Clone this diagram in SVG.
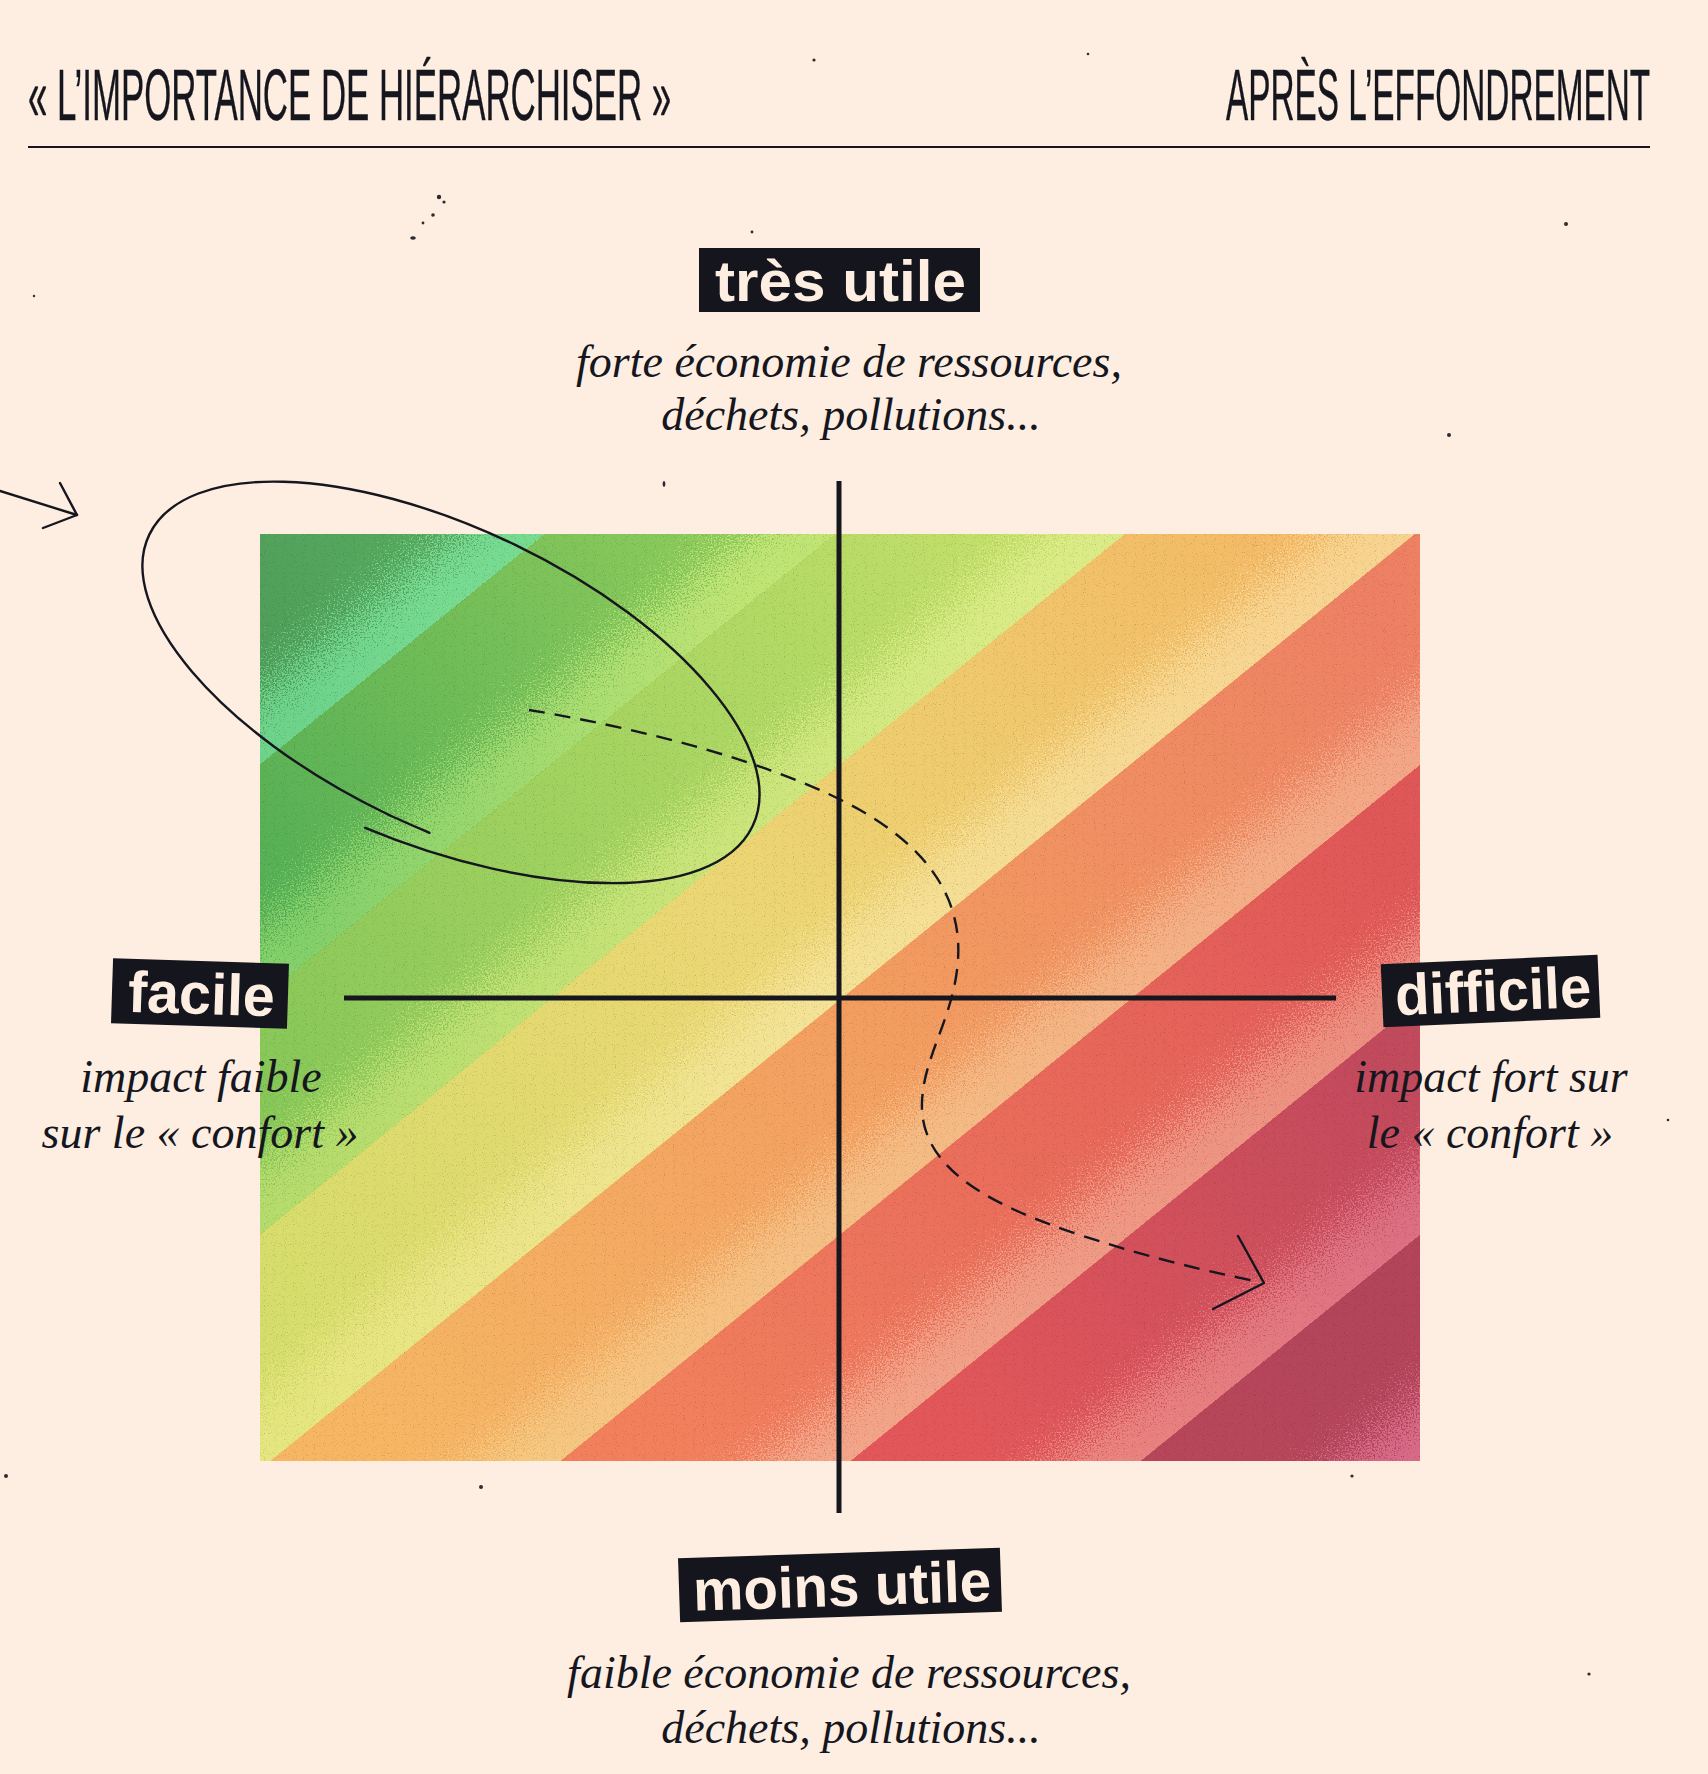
<svg xmlns="http://www.w3.org/2000/svg" width="1708" height="1774" viewBox="0 0 1708 1774">
  <style>
    .head { font-family: 'Liberation Sans', Arial, sans-serif; font-size: 72px; fill: #16161e; stroke: #16161e; stroke-width: 0.4; }
    .tag-box { fill: #15151d; }
    .tag { font-family: 'Liberation Sans', Arial, sans-serif; font-weight: 700; font-size: 58px; fill: #fdeee1; }
    .note { font-family: 'Liberation Serif', 'Times New Roman', serif; font-style: italic; font-size: 46px; fill: #16161e; text-anchor: middle; }
    .axis { stroke: #16161e; stroke-width: 5; fill: none; }
    .ink { stroke: #16161e; stroke-width: 2.4; fill: none; stroke-linecap: round; stroke-linejoin: round; }
    .dash { stroke-dasharray: 16 10; stroke-linecap: butt; }
    .speck { fill: #2a2a30; }
  </style>
  <defs>
    <clipPath id="chartClip"><rect x="260" y="534" width="1160" height="927"/></clipPath>

    <!-- half-planes y + 0.81x < c, one per band boundary -->
    <polygon id="h1" points="0,0 1203.7,0 0,975"/>
    <polygon id="h2" points="0,0 1493.8,0 0,1210"/>
    <polygon id="h3" points="0,0 1784,0 0,1445"/>
    <polygon id="h4" points="0,0 2074.1,0 0,1680"/>
    <polygon id="h5" points="0,0 2364.2,0 0,1915"/>
    <polygon id="h6" points="0,0 2654.3,0 0,2150"/>
    <polygon id="h7" points="0,0 2944.4,0 0,2385"/>

    <!-- base colours, running along each band -->
    <linearGradient id="b1" gradientUnits="userSpaceOnUse" x1="260" y1="1461" x2="1420" y2="534"><stop offset="0.34" stop-color="#4f9e59"/><stop offset="0.47" stop-color="#57a95f"/></linearGradient>
    <linearGradient id="b2" gradientUnits="userSpaceOnUse" x1="260" y1="1461" x2="1420" y2="534"><stop offset="0.25" stop-color="#56b055"/><stop offset="0.62" stop-color="#8bca5b"/></linearGradient>
    <linearGradient id="b3" gradientUnits="userSpaceOnUse" x1="260" y1="1461" x2="1420" y2="534"><stop offset="0.15" stop-color="#86c758"/><stop offset="0.77" stop-color="#c1df69"/></linearGradient>
    <linearGradient id="b4" gradientUnits="userSpaceOnUse" x1="260" y1="1461" x2="1420" y2="534"><stop offset="0.05" stop-color="#d5de6a"/><stop offset="0.48" stop-color="#ecd774"/><stop offset="0.92" stop-color="#f4ba66"/></linearGradient>
    <linearGradient id="b5" gradientUnits="userSpaceOnUse" x1="260" y1="1461" x2="1420" y2="534"><stop offset="0.08" stop-color="#f6b664"/><stop offset="0.5" stop-color="#f39e60"/><stop offset="0.95" stop-color="#ee8064"/></linearGradient>
    <linearGradient id="b6" gradientUnits="userSpaceOnUse" x1="260" y1="1461" x2="1420" y2="534"><stop offset="0.23" stop-color="#f2805d"/><stop offset="0.85" stop-color="#e05758"/></linearGradient>
    <linearGradient id="b7" gradientUnits="userSpaceOnUse" x1="260" y1="1461" x2="1420" y2="534"><stop offset="0.38" stop-color="#e3575a"/><stop offset="0.75" stop-color="#c24a5d"/></linearGradient>
    <linearGradient id="b8" gradientUnits="userSpaceOnUse" x1="260" y1="1461" x2="1420" y2="534"><stop offset="0.53" stop-color="#b7465b"/><stop offset="0.66" stop-color="#b3445a"/></linearGradient>

    <!-- lighter tints shown through the speckle mask -->
    <linearGradient id="l1" gradientUnits="userSpaceOnUse" x1="260" y1="1461" x2="1420" y2="534"><stop offset="0.34" stop-color="#6fd48b"/><stop offset="0.47" stop-color="#78db92"/></linearGradient>
    <linearGradient id="l2" gradientUnits="userSpaceOnUse" x1="260" y1="1461" x2="1420" y2="534"><stop offset="0.25" stop-color="#84d06a"/><stop offset="0.62" stop-color="#c0e575"/></linearGradient>
    <linearGradient id="l3" gradientUnits="userSpaceOnUse" x1="260" y1="1461" x2="1420" y2="534"><stop offset="0.15" stop-color="#b5dc6c"/><stop offset="0.77" stop-color="#dbec86"/></linearGradient>
    <linearGradient id="l4" gradientUnits="userSpaceOnUse" x1="260" y1="1461" x2="1420" y2="534"><stop offset="0.05" stop-color="#e6e680"/><stop offset="0.48" stop-color="#f4e396"/><stop offset="0.92" stop-color="#f8d491"/></linearGradient>
    <linearGradient id="l5" gradientUnits="userSpaceOnUse" x1="260" y1="1461" x2="1420" y2="534"><stop offset="0.08" stop-color="#f6ca80"/><stop offset="0.5" stop-color="#f5bb85"/><stop offset="0.95" stop-color="#f3a487"/></linearGradient>
    <linearGradient id="l6" gradientUnits="userSpaceOnUse" x1="260" y1="1461" x2="1420" y2="534"><stop offset="0.23" stop-color="#f4aa8b"/><stop offset="0.85" stop-color="#eb8a7e"/></linearGradient>
    <linearGradient id="l7" gradientUnits="userSpaceOnUse" x1="260" y1="1461" x2="1420" y2="534"><stop offset="0.38" stop-color="#ee8a7d"/><stop offset="0.75" stop-color="#da6c84"/></linearGradient>
    <linearGradient id="l8" gradientUnits="userSpaceOnUse" x1="260" y1="1461" x2="1420" y2="534"><stop offset="0.53" stop-color="#d66a86"/><stop offset="0.66" stop-color="#d86c88"/></linearGradient>

    <!-- ramp across one band width, repeated: dark upper-left edge to light lower-right edge -->
    <linearGradient id="ramp" gradientUnits="userSpaceOnUse" x1="260" y1="764.4" x2="374.9" y2="906.3" spreadMethod="repeat">
      <stop offset="0" stop-color="#fff" stop-opacity="0"/>
      <stop offset="0.25" stop-color="#fff" stop-opacity="0.08"/>
      <stop offset="1" stop-color="#fff" stop-opacity="0.95"/>
    </linearGradient>

    <filter id="speckle" filterUnits="userSpaceOnUse" x="260" y="534" width="1160" height="927" color-interpolation-filters="sRGB">
      <feTurbulence type="fractalNoise" baseFrequency="0.62" numOctaves="2" seed="5" result="noise"/>
      <feColorMatrix in="noise" type="matrix" values="0 0 0 0 0  0 0 0 0 0  0 0 0 0 0  1 0 0 0 0" result="na"/>
      <feComposite in="SourceAlpha" in2="na" operator="arithmetic" k1="0" k2="5" k3="5" k4="-5" result="m"/>
      <feFlood flood-color="#ffffff" result="w"/>
      <feComposite in="w" in2="m" operator="in"/>
    </filter>

    <mask id="speckMask" maskUnits="userSpaceOnUse" x="260" y="534" width="1160" height="927">
      <rect x="260" y="534" width="1160" height="927" fill="url(#ramp)" filter="url(#speckle)"/>
    </mask>

    <filter id="grain" filterUnits="userSpaceOnUse" x="260" y="534" width="1160" height="927" color-interpolation-filters="sRGB">
      <feTurbulence type="fractalNoise" baseFrequency="0.9" numOctaves="1" seed="9"/>
      <feColorMatrix type="matrix" values="0 0 0 0 0.1  0 0 0 0 0.06  0 0 0 0 0.1  -3 0 0 0 1.2"/>
    </filter>
  </defs>

  <rect width="1708" height="1774" fill="#fdeee1"/>

  <!-- header: condensed caps, squeezed horizontally from Liberation Sans -->
  <g id="header">
    <text id="title-left" class="head" transform="translate(28 120) scale(0.48 1)" x="0" y="0" textLength="1340" lengthAdjust="spacingAndGlyphs">« L’IMPORTANCE DE HIÉRARCHISER »</text>
    <text id="title-right" class="head" transform="translate(1226 120) scale(0.461 1)" x="0" y="0" textLength="920" lengthAdjust="spacingAndGlyphs">APRÈS L’EFFONDREMENT</text>
    <line id="header-rule" x1="28" y1="147" x2="1650" y2="147" stroke="#16161e" stroke-width="2"/>
  </g>

  <!-- stray ink specks on the paper -->
  <g id="specks" class="speck">
    <circle cx="814" cy="60" r="1.6"/>
    <circle cx="1088" cy="54" r="1.3"/>
    <circle cx="439" cy="197" r="2.2"/>
    <circle cx="444" cy="202" r="1.6"/>
    <circle cx="433" cy="215" r="1.8"/>
    <circle cx="423" cy="223" r="1.4"/>
    <ellipse cx="413" cy="238" rx="2.8" ry="1.8"/>
    <circle cx="752" cy="232" r="1.4"/>
    <circle cx="1566" cy="224" r="2"/>
    <circle cx="1449" cy="435" r="2"/>
    <ellipse cx="664" cy="484" rx="1.4" ry="3"/>
    <circle cx="6" cy="1476" r="2"/>
    <circle cx="481" cy="1487" r="2"/>
    <circle cx="1352" cy="1476" r="1.6"/>
    <circle cx="1589" cy="1674" r="1.6"/>
    <circle cx="1668" cy="1120" r="1.3"/>
    <circle cx="34" cy="296" r="1.2"/>
    <circle cx="701" cy="813" r="1.4"/>
    <circle cx="1196" cy="883" r="1.4"/>
    <circle cx="679" cy="1325" r="1.6"/>
  </g>

  <!-- striped gradient field -->
  <g id="chart" clip-path="url(#chartClip)">
    <rect x="260" y="534" width="1160" height="927" fill="url(#b8)"/>
    <use href="#h7" fill="url(#b7)"/>
    <use href="#h6" fill="url(#b6)"/>
    <use href="#h5" fill="url(#b5)"/>
    <use href="#h4" fill="url(#b4)"/>
    <use href="#h3" fill="url(#b3)"/>
    <use href="#h2" fill="url(#b2)"/>
    <use href="#h1" fill="url(#b1)"/>
    <g mask="url(#speckMask)">
      <rect x="260" y="534" width="1160" height="927" fill="url(#l8)"/>
      <use href="#h7" fill="url(#l7)"/>
      <use href="#h6" fill="url(#l6)"/>
      <use href="#h5" fill="url(#l5)"/>
      <use href="#h4" fill="url(#l4)"/>
      <use href="#h3" fill="url(#l3)"/>
      <use href="#h2" fill="url(#l2)"/>
      <use href="#h1" fill="url(#l1)"/>
    </g>
    <rect x="260" y="534" width="1160" height="927" filter="url(#grain)" opacity="0.3"/>
  </g>

  <!-- axes -->
  <g id="axes">
    <line class="axis" x1="839" y1="481" x2="839" y2="1513"/>
    <line class="axis" x1="344" y1="998" x2="1336" y2="998"/>
  </g>

  <!-- hand-drawn marks -->
  <g id="connectors">
    <g id="entry-arrow">
      <path class="ink" d="M 0 491 L 77 515"/>
      <path class="ink" d="M 60 483 L 77 515 L 43 528"/>
    </g>
    <path id="loop" class="ink" transform="translate(450 680) rotate(25.8)" d="M -12 170 C 170 160, 336 88, 336 0 C 336 -82.8, 185.6 -150, 0 -150 C -184.5 -150, -334 -82.8, -334 0 C -334 81.7, -184.5 148, 0 148 C 16 148, 32 147.2, 48 146.5"/>
    <g id="path-arrow">
      <path class="ink dash" d="M 529 710 C 650 730, 780 765, 860 810 C 930 850, 962 900, 958 960 C 954 1020, 920 1060, 922 1110 C 925 1170, 990 1205, 1080 1235 C 1150 1258, 1210 1272, 1260 1282"/>
      <path class="ink" d="M 1238 1236 L 1264 1283 L 1213 1309"/>
    </g>
  </g>

  <!-- axis labels -->
  <g id="node-tres-utile">
    <rect class="tag-box" x="699" y="248" width="281" height="64"/>
    <text class="tag" x="715" y="301" textLength="251" lengthAdjust="spacingAndGlyphs">très utile</text>
    <text class="note" x="849" y="377">forte économie de ressources,</text>
    <text class="note" x="851" y="430">déchets, pollutions...</text>
  </g>

  <g id="node-facile">
    <g transform="rotate(1.8 200 993.5)">
      <rect class="tag-box" x="112" y="961" width="176" height="65"/>
      <text class="tag" x="128" y="1014" textLength="147" lengthAdjust="spacingAndGlyphs">facile</text>
    </g>
    <text class="note" x="201" y="1092">impact faible</text>
    <text class="note" x="200" y="1148">sur le « confort »</text>
  </g>

  <g id="node-difficile">
    <g transform="rotate(-2.5 1490.5 991)">
      <rect class="tag-box" x="1382" y="959.5" width="217" height="63"/>
      <text class="tag" x="1395" y="1011" textLength="196" lengthAdjust="spacingAndGlyphs">difficile</text>
    </g>
    <text class="note" x="1491" y="1092">impact fort sur</text>
    <text class="note" x="1490" y="1148">le « confort »</text>
  </g>

  <g id="node-moins-utile">
    <g transform="rotate(-1.9 840 1585)">
      <rect class="tag-box" x="679" y="1553" width="322" height="64"/>
      <text class="tag" x="693" y="1606" textLength="298" lengthAdjust="spacingAndGlyphs">moins utile</text>
    </g>
    <text class="note" x="849" y="1688">faible économie de ressources,</text>
    <text class="note" x="851" y="1743">déchets, pollutions...</text>
  </g>
</svg>
